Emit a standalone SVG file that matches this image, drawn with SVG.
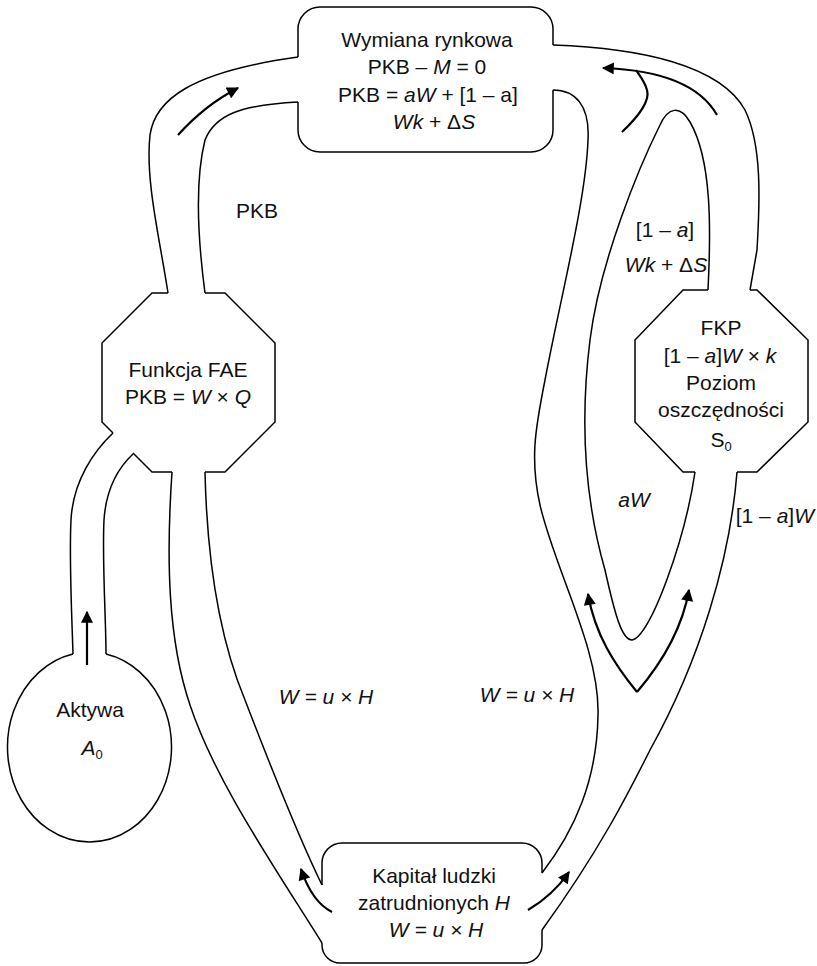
<svg xmlns="http://www.w3.org/2000/svg" width="817" height="966" viewBox="0 0 817 966">
<style>
.o{fill:none;stroke:#000;stroke-width:1.5;stroke-linejoin:miter}
.a{fill:none;stroke:#000;stroke-width:2.2;marker-end:url(#ah)}
text{font-family:"Liberation Sans",Arial,sans-serif;font-size:21px;fill:#111;text-anchor:middle}
.i{font-style:italic}
.sub{font-size:13px}
</style>
<defs>
<marker id="ah" viewBox="0 0 10 10" refX="9" refY="5" markerWidth="13" markerHeight="12" markerUnits="userSpaceOnUse" orient="auto">
<path d="M0,0 L10,5 L0,10 z" fill="#000"/>
</marker>
</defs>
<rect width="817" height="966" fill="#fff"/>

<g id="connectors">
<!-- FAE to top box -->
<path class="o" d="M168,293 C160,240 145,180 150,135 C155,100 190,72 298,57"/>
<path class="o" d="M205,293 C198,240 195,180 205,140 C215,115 240,105 298,102"/>
<!-- circle to FAE -->
<path class="o" d="M73,654 C72,620 69,560 71,520 C73,480 95,450 113,433"/>
<path class="o" d="M106,654 C106,620 102,560 104,520 C106,490 118,468 133,454"/>
<!-- FAE to bottom box -->
<path class="o" d="M172,472 C166,560 168,640 190,705 C215,780 270,860 322,943"/>
<path class="o" d="M205,472 C207,560 220,640 245,700 C270,765 300,840 322,885"/>
<!-- right side -->
<path class="o" d="M553,45 C640,48 720,65 745,110 C762,145 760,200 757,250 L750,290"/>
<path class="o" d="M553,90 C575,90 590,105 588,140 C586,200 560,300 545,380 C535,430 530,460 540,505 C555,570 600,650 598,715 C597,780 575,830 542,873"/>
<path class="o" d="M708,290 C711,230 712,160 690,122 C680,105 668,107 660,125 C640,165 600,260 590,340 C580,420 585,500 605,570 C615,615 622,640 632,640 C650,638 685,540 695,472"/>
<path class="o" d="M737,472 C730,560 700,660 650,750 C630,790 600,850 542,930"/>
<!-- arrows -->
<path class="a" d="M87,665 L87,612"/>
<path class="a" d="M178,135 Q205,105 238,88"/>
<path class="a" d="M717,115 C700,85 660,70 603,68"/>
<path class="o" style="stroke-width:2.2" d="M622,132 C640,115 650,100 647,90 C645,82 640,76 636,70"/>
<path class="a" d="M637,692 C615,665 595,635 588,594"/>
<path class="a" d="M637,692 C660,665 682,630 689,590"/>
<path class="a" d="M528,910 C545,900 558,888 569,872"/>
<path class="a" d="M332,912 C318,905 308,890 301,869"/>
</g>

<g id="wymiana">
<path class="o" d="M298,57 L298,29 A22,22 0 0 1 320,7 L531,7 A22,22 0 0 1 553,29 L553,45 M553,90 L553,130 A22,22 0 0 1 531,152 L320,152 A22,22 0 0 1 298,130 L298,102"/>
<text x="427" y="47">Wymiana rynkowa</text>
<text x="427" y="74">PKB – <tspan class="i">M</tspan> = 0</text>
<text x="428" y="102">PKB = <tspan class="i">aW</tspan> + [1 – a]</text>
<text x="434" y="129"><tspan class="i">Wk</tspan> + Δ<tspan class="i">S</tspan></text>
</g>

<g id="fae">
<path class="o" d="M168,293 L152,293 L102,343 L102,422 L113,433 M133,453 L152,472 L172,472 M205,472 L225,472 L275,422 L275,343 L225,293 L205,293"/>
<text x="188" y="377">Funkcja FAE</text>
<text x="188" y="404">PKB = <tspan class="i">W</tspan> × <tspan class="i">Q</tspan></text>
</g>

<g id="fkp">
<path class="o" d="M708,290 L683,290 L635,340 L635,422 L683,472 L695,472 M737,472 L757,472 L808,422 L808,340 L757,290 L750,290"/>
<text x="721" y="335">FKP</text>
<text x="720" y="363">[1 – <tspan class="i">a</tspan>]<tspan class="i">W</tspan> × <tspan class="i">k</tspan></text>
<text x="721" y="390">Poziom</text>
<text x="721" y="417">oszczędności</text>
<text x="721" y="447">S<tspan class="sub" dy="4">0</tspan></text>
</g>

<g id="aktywa">
<path class="o" d="M106,654 A82,95 0 1 1 73,654"/>
<text x="90" y="717">Aktywa</text>
<text x="92" y="755"><tspan class="i">A</tspan><tspan class="sub" dy="4">0</tspan></text>
</g>

<g id="kapital">
<path class="o" d="M322,885 L322,863 A20,20 0 0 1 342,843 L522,843 A20,20 0 0 1 542,863 L542,873 M542,930 L542,945 A18,18 0 0 1 524,963 L340,963 A18,18 0 0 1 322,945 L322,943"/>
<text x="434" y="883">Kapitał ludzki</text>
<text x="434" y="910">zatrudnionych <tspan class="i">H</tspan></text>
<text x="436" y="937" class="i">W = u × H</text>
</g>

<g id="labels">
<text x="257" y="218">PKB</text>
<text x="665" y="237">[1 – <tspan class="i">a</tspan>]</text>
<text x="666" y="272"><tspan class="i">Wk</tspan> + Δ<tspan class="i">S</tspan></text>
<text x="634" y="507" class="i">aW</text>
<text x="814" y="523" style="text-anchor:end">[1 – <tspan class="i">a</tspan>]<tspan class="i">W</tspan></text>
<text x="326" y="704" class="i">W = u × H</text>
<text x="527" y="702" class="i">W = u × H</text>
</g>
</svg>
